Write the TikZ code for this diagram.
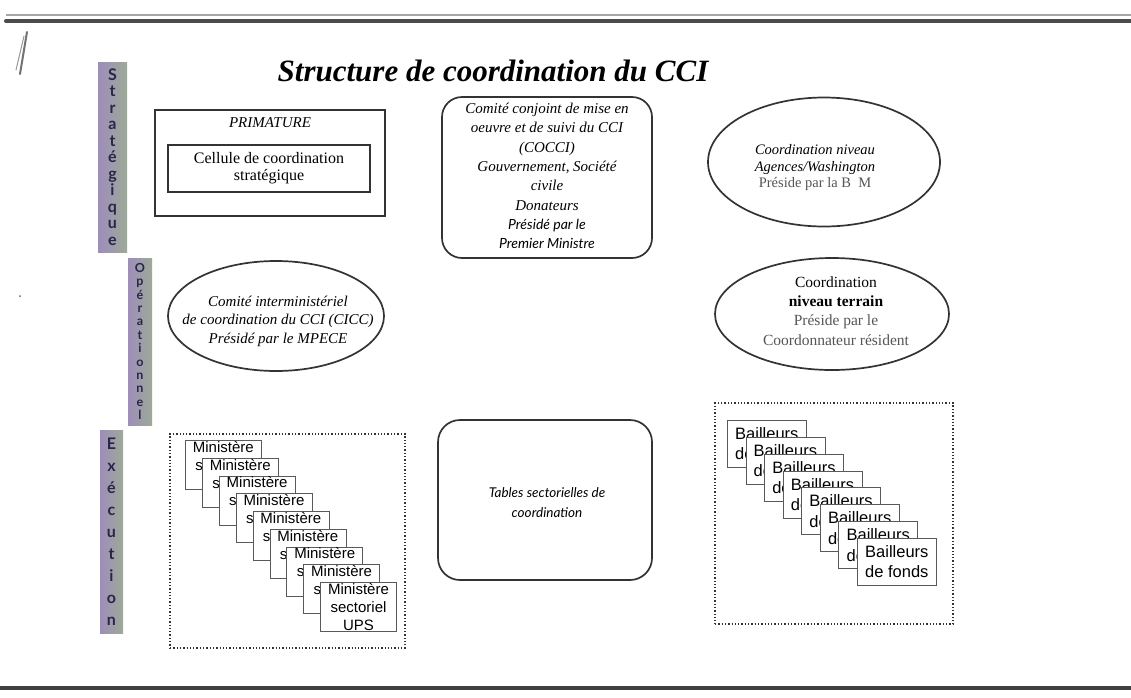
\documentclass[tikz,border=0pt]{standalone}
\usepackage{fontspec}
\setmainfont{Liberation Serif}
\newfontfamily\arialf{Liberation Sans}
\newfontfamily\comicf{Lato}
\usetikzlibrary{shapes.geometric}
\definecolor{ink}{HTML}{333333}
\definecolor{barA}{HTML}{9E8DBB}
\definecolor{barB}{HTML}{9DAA97}
\definecolor{barletter}{HTML}{26264A}
\definecolor{greytext}{HTML}{555555}
\tikzset{
  vbar/.style={draw=none, left color=barA, right color=barB, inner sep=0pt,
    text=barletter, align=center, font=\comicf\bfseries\fontsize{16}{16.5}\selectfont},
  plainbox/.style={draw=ink, line width=1.3pt, inner sep=0pt},
  roundbox/.style={draw=ink, line width=1.7pt, rounded corners=20pt, inner sep=0pt},
  oval/.style={ellipse, draw=ink, line width=1.7pt, inner sep=0pt},
  dotbox/.style={draw=ink, line width=1.3pt, dotted, inner sep=0pt},
  minbox/.style={draw=black!65, line width=0.6pt, fill=white, anchor=north west,
    minimum width=76pt, minimum height=49pt, inner xsep=0pt, inner ysep=0pt,
    align=center, font=\arialf\fontsize{15}{18}\selectfont},
  bailbox/.style={draw=black!65, line width=0.6pt, fill=white, anchor=north west,
    minimum width=79pt, minimum height=47pt, inner xsep=0pt, inner ysep=0pt,
    align=center, font=\arialf\fontsize{16.5}{20.5}\selectfont},
  txt/.style={align=center, inner sep=0pt}
}
\begin{document}
\begin{tikzpicture}[x=1pt,y=-1pt]
\useasboundingbox (0,0) rectangle (1131,697);
\fill[white] (0,0) rectangle (1131,697);
% page rules
\draw[line width=1.5pt, black!35] (6,15) -- (1131,15);
\draw[line width=4pt, black!70, line cap=round] (6,21) -- (1131,21);
\draw[line width=3.5pt, black!75] (0,688) -- (1131,688);
% pen mark
\draw[line width=2pt, black!55, line cap=round] (27,32) -- (20,74);
\draw[line width=1pt, black!40, line cap=round] (24,36) -- (16,70);
\fill[black!60] (20,296) circle (1pt);
% title
\node[txt, font=\bfseries\itshape\fontsize{31}{34}\selectfont] (title) at (493,71) {Structure de coordination du CCI};
% vertical bars
\node[vbar, minimum width=29pt, minimum height=190pt] (strat) at (112.5,157) {S\\t\\r\\a\\t\\é\\g\\i\\q\\u\\e};
\node[vbar, minimum width=24pt, minimum height=167pt, font=\comicf\bfseries\fontsize{12.5}{13.4}\selectfont] (oper) at (140,341.5) {O\\p\\é\\r\\a\\t\\i\\o\\n\\n\\e\\l};
\node[vbar, minimum width=23pt, minimum height=203pt, font=\comicf\bfseries\fontsize{16}{22}\selectfont] (exec) at (111.5,531.5) {E\\x\\é\\c\\u\\t\\i\\o\\n};
% PRIMATURE
\node[plainbox, minimum width=230pt, minimum height=106pt] (prim) at (270,163) {};
\node[txt, font=\itshape\fontsize{15}{18}\selectfont] (primlab) at (270,123) {PRIMATURE};
\node[plainbox, minimum width=202pt, minimum height=47pt, align=center,
  font=\fontsize{16}{17}\selectfont] (cell) at (269,168.5) {Cellule de coordination\\stratégique};
% COCCI
\node[roundbox, minimum width=210pt, minimum height=161pt] (cocci) at (547,177.5) {};
\node[txt, font=\itshape\fontsize{15}{19.3}\selectfont] (coccitxt) at (547,176) {Comité conjoint de mise en\\oeuvre et de suivi du CCI\\(COCCI)\\Gouvernement, Société\\civile\\Donateurs\\{\comicf\fontsize{14}{19.3}\selectfont Présidé par le}\\{\comicf\fontsize{14}{19.3}\selectfont Premier Ministre}};
% Washington
\node[oval, minimum width=232pt, minimum height=129pt] (wash) at (824,162) {};
\node[txt, font=\itshape\fontsize{14.5}{16.5}\selectfont] (washtxt) at (815,168) {Coordination niveau\\Agences/Washington\\{\upshape\color{greytext}Préside par la B\enspace M}};
% CICC
\node[oval, minimum width=216pt, minimum height=110pt] (cicc) at (276,316) {};
\node[txt, font=\itshape\fontsize{15}{18.5}\selectfont] (cicctxt) at (278,321) {Comité interministériel\\de coordination du CCI (CICC)\\Présidé par le MPECE};
% terrain
\node[oval, minimum width=234pt, minimum height=112pt] (terr) at (832,314) {};
\node[txt, font=\fontsize{15.5}{19.3}\selectfont] (terrtxt) at (836,311) {Coordination\\\textbf{niveau terrain}\\{\color{greytext}Préside par le}\\{\color{greytext}Coordonnateur résident}};
% dotted frames
\node[dotbox, minimum width=235pt, minimum height=214pt] (leftframe) at (287.5,541) {};
\node[dotbox, minimum width=238pt, minimum height=221pt] (rightframe) at (834,513.5) {};
% Tables
\node[roundbox, rounded corners=22pt, minimum width=214pt, minimum height=160pt] (tables) at (545,500) {};
\node[txt, font=\comicf\itshape\fontsize{13.5}{20}\selectfont] (tablestxt) at (547,503) {Tables sectorielles de\\coordination};
% Ministere stack
\foreach \i in {0,...,8}{
  \node[minbox] (min\i) at ({185+16.9*\i},{440+17.75*\i}) {Ministère\\sectoriel\\UPS};
}
% Bailleurs stack
\foreach \i in {0,...,7}{
  \node[bailbox] (bail\i) at ({727+18.57*\i},{420+16.86*\i}) {Bailleurs\\de fonds};
}
\end{tikzpicture}
\end{document}
